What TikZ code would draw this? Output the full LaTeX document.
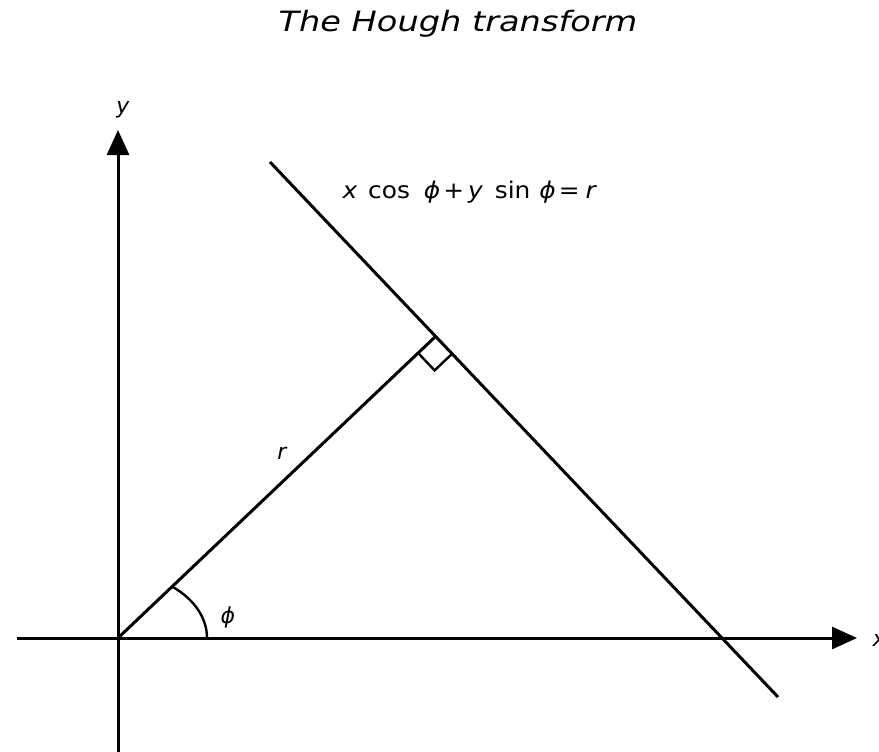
\documentclass[tikz,border=0pt]{standalone}
\usepackage{fontspec}
\setmainfont{DejaVu Sans}
\newfontfamily\widefont[FakeStretch=1.2]{DejaVu Sans}
\newfontfamily\eqfont[FakeStretch=1.08]{DejaVu Sans}
\usetikzlibrary{arrows.meta,calc}
\newcommand{\myphi}{{\itshape ϕ}}
\begin{document}
\begin{tikzpicture}[x=1pt,y=-1pt,
  line width=3pt,
  axis/.style={-{Triangle[length=25pt,width=22pt]}},
  markline/.style={line width=2.4pt},
  lbl/.style={inner sep=0pt,font=\fontsize{22}{26}\selectfont\itshape},
  eqstyle/.style={inner sep=0pt,font=\eqfont\fontsize{23}{27}\selectfont\itshape},
  titlestyle/.style={inner sep=0pt,font=\widefont\fontsize{28}{34}\selectfont\itshape}]
\useasboundingbox (0,0) rectangle (879,752);
\coordinate (O) at (118,638);
\coordinate (F) at (435.5,336.5);
\coordinate (L1) at (270,162);
\coordinate (L2) at (778,697);
\coordinate (XS) at (17,638);
\coordinate (XE) at (857,638);
\coordinate (YS) at (118,752);
\coordinate (YE) at (118,130);
\coordinate (A0) at (207,638);
\draw[axis] (XS) -- (XE);
\draw[axis] (YS) -- (YE);
\draw (L1) -- (L2);
\draw (O) -- (F);
\draw[markline] ($(F)+(-17.4,16.5)$) -- ++(16.5,17.4) -- ++(17.4,-16.5);
\draw[markline] (A0) arc[start angle=0,end angle=-52.3,x radius=90,y radius=65];
\node[titlestyle,anchor=base] (title) at (458,32) {The Hough transform};
\node[eqstyle,anchor=base west] (eq) at (341,198) {x\hspace{11pt}\upshape cos\hspace{14pt}\myphi\hspace{3pt}+\hspace{4pt}\itshape y\hspace{12pt}\upshape sin\hspace{9pt}\myphi\hspace{3pt}=\hspace{6pt}\itshape r};
\node[lbl] (rl) at (282,453) {r};
\node[lbl] (pl) at (228,617) {\myphi};
\node[lbl] (yl) at (123,110) {y};
\node[lbl,anchor=west] (xl) at (871,640) {x};
\end{tikzpicture}
\end{document}
